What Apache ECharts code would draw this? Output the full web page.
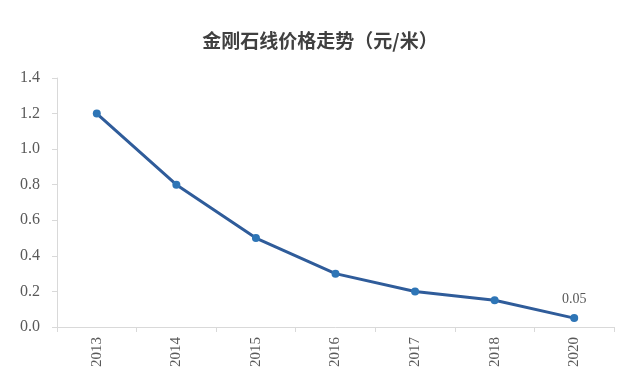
<!DOCTYPE html>
<html><head><meta charset="utf-8">
<script src="https://cdn.jsdelivr.net/npm/echarts@6/dist/echarts.min.js"></script>
<style>html,body{margin:0;padding:0;background:#fff}#c{width:640px;height:380px}</style>
</head><body><div id="c"></div>
<script>
var years = ['2013','2014','2015','2016','2017','2018','2020'];
var prices = [1.2, 0.8, 0.5, 0.3, 0.2, 0.15, 0.05];
var chart = echarts.init(document.getElementById('c'));
chart.setOption({
  animation:false,
  title:{text:'金刚石线价格走势（元/米）',left:'center',top:26,
    textStyle:{fontFamily:'Noto Sans CJK SC',fontSize:19,fontWeight:'bold',color:'#404040'}},
  grid:{left:57,right:26,top:78,bottom:53},
  xAxis:{type:'category',data:years,boundaryGap:true,
    axisLine:{lineStyle:{color:'#d9d9d9'}},
    axisTick:{show:true,alignWithLabel:false,length:5,lineStyle:{color:'#d9d9d9'}},
    axisLabel:{rotate:90,fontFamily:'Liberation Serif',fontSize:15,color:'#595959',margin:10}},
  yAxis:{type:'value',min:0,max:1.4,interval:0.2,
    axisLine:{show:true,lineStyle:{color:'#d9d9d9'}},
    axisTick:{show:true,length:5,lineStyle:{color:'#d9d9d9'}},
    splitLine:{show:false},
    axisLabel:{formatter:function(v){return v.toFixed(1);},fontFamily:'Liberation Serif',fontSize:16,color:'#595959',margin:17}},
  series:[{type:'line',data:prices,symbol:'circle',symbolSize:8,
    lineStyle:{color:'#2F5C9A',width:3},
    itemStyle:{color:'#2E75B6'},
    label:{show:true,position:'top',distance:8,fontFamily:'Liberation Serif',fontSize:14,color:'#595959',
      formatter:function(p){return p.dataIndex===prices.length-1?p.value.toFixed(2):'';}}}]
});
</script></body></html>
